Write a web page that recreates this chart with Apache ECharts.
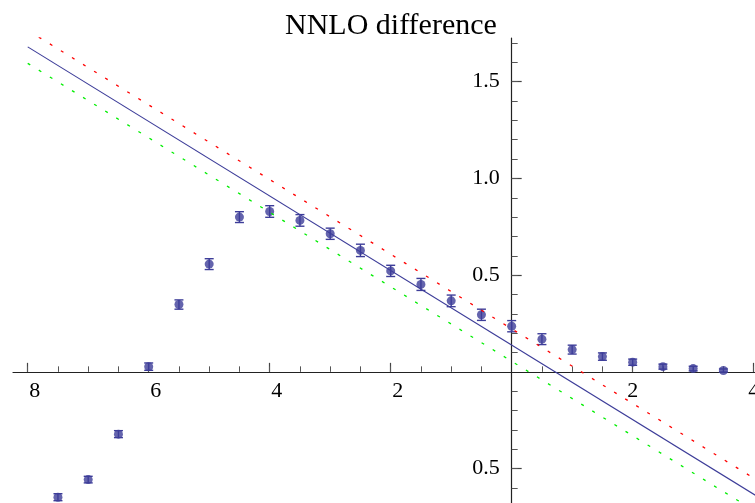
<!DOCTYPE html>
<html>
<head>
<meta charset="utf-8">
<script src="https://cdn.jsdelivr.net/npm/echarts@6/dist/echarts.min.js"></script>
<style>
html,body{margin:0;padding:0;background:#fff;}
#chart{width:755px;height:503px;}
</style>
</head>
<body>
<div id="chart"></div>
<script>
// ---- data ----
const titleText = 'NNLO difference';
const pointX = [-7.5,-7,-6.5,-6,-5.5,-5,-4.5,-4,-3.5,-3,-2.5,-2,-1.5,-1,-0.5,0,0.5,1,1.5,2,2.5,3,3.5];
const pointY = [-0.648,-0.557,-0.322,0.027,0.348,0.557,0.800,0.829,0.783,0.714,0.628,0.522,0.452,0.367,0.295,0.236,0.169,0.115,0.079,0.050,0.027,0.017,0.007];
const pointErr = [0.018,0.017,0.018,0.019,0.024,0.028,0.028,0.030,0.030,0.029,0.032,0.029,0.031,0.030,0.029,0.029,0.028,0.023,0.019,0.016,0.013,0.012,0.008];
const blueLineX = [-8, 4.05];
const blueLineY = [1.680, -0.642];
const redLineX = [-8, 4.05];
const redLineY = [1.766, -0.559];
const greenLineX = [-8, 4.05];
const greenLineY = [1.595, -0.725];
const xMajorTicks = [-8,-6,-4,-2,2,4];
const xMinorTicks = [-8,-7.5,-7,-6.5,-6,-5.5,-5,-4.5,-4,-3.5,-3,-2.5,-2,-1.5,-1,-0.5,0.5,1,1.5,2,2.5,3,3.5,4];
const yMajorTicks = [-0.5,0.5,1.0,1.5];
const yMinorTicks = [-0.6,-0.5,-0.4,-0.3,-0.2,-0.1,0.1,0.2,0.3,0.4,0.5,0.6,0.7,0.8,0.9,1.0,1.1,1.2,1.3,1.4,1.5,1.6,1.7];
const xRange = [-8.243, 4.022];
const yRange = [-0.678, 1.726];

const BLUE = '#3d3d99';
const FONT = 'Liberation Serif';
const W = 755, H = 503;
const G = {left: 13, right: 0, top: 38, bottom: 0};

const zip = (a, b) => a.map((v, i) => [v, b[i]]);
const pts = pointX.map((x, i) => [x, pointY[i], pointErr[i]]);

const chart = echarts.init(document.getElementById('chart'), null, {renderer: 'canvas'});

function buildOption(ox0, px0) {
  // ox0: pixel y of value 0 on y axis; px0: pixel x of value 0 on x axis
  const offB = ox0 == null ? 0 : -((H - G.bottom) - ox0);
  const offT = ox0 == null ? 0 : -(ox0 - G.top);
  const offL = px0 == null ? 0 : -(px0 - G.left);
  const offR = px0 == null ? 0 : -((W - G.right) - px0);
  return {
    animation: false,
    backgroundColor: '#fff',
    title: {
      text: titleText, left: 280, top: 6,
      textStyle: {fontFamily: FONT, fontSize: 30, fontWeight: 'normal', color: '#000'}
    },
    grid: {left: G.left, right: G.right, top: G.top, bottom: G.bottom, containLabel: false, outerBoundsMode: 'none'},
    xAxis: [{
      type: 'value', min: xRange[0], max: xRange[1], position: 'bottom', offset: offB,
      axisLine: {show: true, onZero: false, lineStyle: {color: '#222', width: 1.2}},
      axisTick: {show: true, inside: true, length: 9, customValues: xMajorTicks, lineStyle: {color: '#444', width: 1.2}},
      axisLabel: {
        show: true, customValues: xMajorTicks, margin: 8, color: '#000', fontFamily: FONT, fontSize: 22,
        formatter: v => v < 0 ? '{n|' + Math.abs(v) + '}' : String(v),
        rich: {n: {fontFamily: FONT, fontSize: 22, color: '#000', padding: [0, 0, 0, 14]}}
      },
      splitLine: {show: false}
    }, {
      type: 'value', min: xRange[0], max: xRange[1], position: 'top', offset: offT,
      axisLine: {show: false, onZero: false},
      axisTick: {show: true, inside: false, length: 5.5, customValues: xMinorTicks, lineStyle: {color: '#555', width: 1}},
      axisLabel: {show: false},
      splitLine: {show: false}
    }],
    yAxis: [{
      type: 'value', min: yRange[0], max: yRange[1], position: 'left', offset: offL,
      axisLine: {show: true, onZero: false, lineStyle: {color: '#222', width: 1.2}},
      axisTick: {show: true, inside: true, length: 10, customValues: yMajorTicks, lineStyle: {color: '#444', width: 1.2}},
      axisLabel: {
        show: true, customValues: yMajorTicks, margin: 12, color: '#000', fontFamily: FONT, fontSize: 22,
        formatter: v => Math.abs(v).toFixed(1)
      },
      splitLine: {show: false}
    }, {
      type: 'value', min: yRange[0], max: yRange[1], position: 'right', offset: offR,
      axisLine: {show: false, onZero: false},
      axisTick: {show: true, inside: false, length: 6, customValues: yMinorTicks, lineStyle: {color: '#555', width: 1}},
      axisLabel: {show: false},
      splitLine: {show: false}
    }],
    series: [{
      type: 'line', data: zip(greenLineX, greenLineY), symbol: 'none', clip: true,
      lineStyle: {color: '#00ee00', width: 1.3, type: [3, 10]}
    }, {
      type: 'line', data: zip(redLineX, redLineY), symbol: 'none', clip: true,
      lineStyle: {color: '#ff0000', width: 1.3, type: [3, 10]}
    }, {
      type: 'line', data: zip(blueLineX, blueLineY), symbol: 'none', clip: true,
      lineStyle: {color: BLUE, width: 1.1}
    }, {
      type: 'custom', data: pts, clip: true,
      renderItem: function (params, api) {
        const x = api.value(0), y = api.value(1), e = api.value(2);
        const top = api.coord([x, y + e]);
        const bot = api.coord([x, y - e]);
        const w = 4.5;
        const st = {stroke: BLUE, lineWidth: 1.4};
        return {type: 'group', children: [
          {type: 'line', shape: {x1: top[0], y1: top[1], x2: bot[0], y2: bot[1]}, style: st},
          {type: 'line', shape: {x1: top[0] - w, y1: top[1], x2: top[0] + w, y2: top[1]}, style: st},
          {type: 'line', shape: {x1: bot[0] - w, y1: bot[1], x2: bot[0] + w, y2: bot[1]}, style: st}
        ]};
      }
    }, {
      type: 'scatter', data: pts.map(p => [p[0], p[1]]), symbol: 'circle', symbolSize: 9,
      itemStyle: {color: BLUE}, clip: true
    }]
  };
}

chart.setOption(buildOption(null, null));
const zeroY = chart.convertToPixel({yAxisIndex: 0}, 0);
const zeroX = chart.convertToPixel({xAxisIndex: 0}, 0);
chart.setOption(buildOption(zeroY, zeroX), true);
</script>
</body>
</html>
